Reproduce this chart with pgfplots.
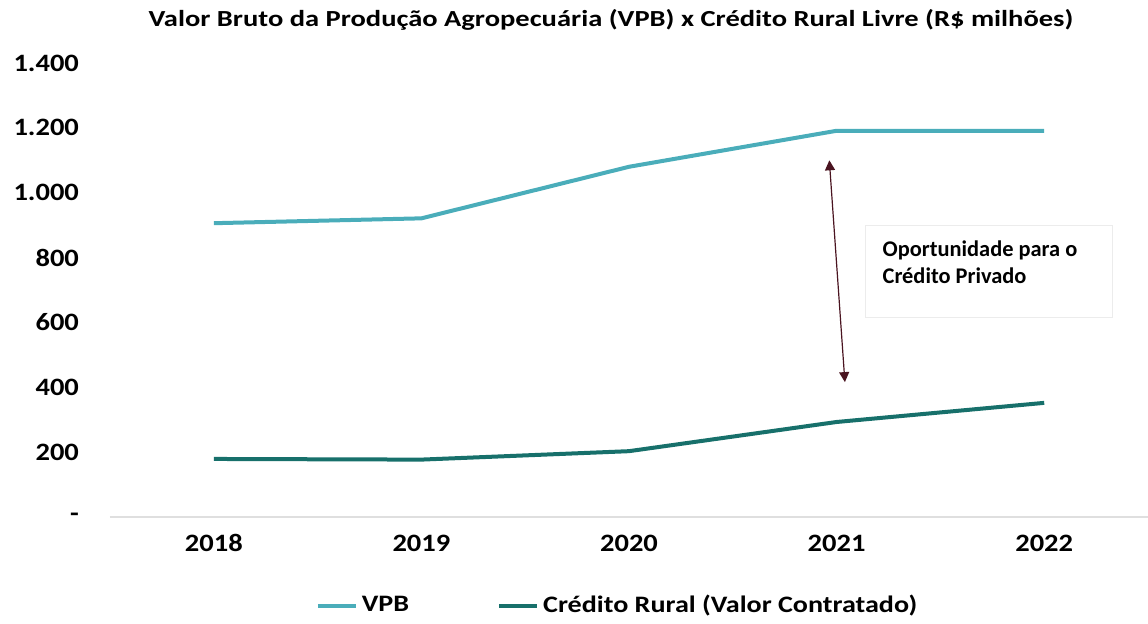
\documentclass[border=0pt]{standalone}
\usepackage{pgfplots}
\pgfplotsset{compat=1.18}
\usepackage{fontspec}
\setmainfont{Carlito}
\newfontfamily\titlefont{Carlito}[FakeStretch=1.24]
\newfontfamily\tickfont{Carlito}[FakeStretch=1.14]
\newfontfamily\legfont{Carlito}[FakeStretch=1.19]
\usetikzlibrary{arrows.meta}
\definecolor{vpb}{HTML}{4AADBA}
\definecolor{cred}{HTML}{17706B}
\definecolor{arr}{HTML}{4A1420}
\begin{document}
\begin{tikzpicture}
\useasboundingbox (-55pt,-53pt) rectangle (519pt,258.5pt);
\begin{axis}[
  at={(0,0)}, anchor=south west,
  scale only axis, width=519pt, height=227pt,
  xmin=2017.5, xmax=2022.5, ymin=0, ymax=1400,
  axis lines*=left,
  x axis line style={draw=gray!25, line width=1pt, -},
  y axis line style={draw=none},
  major tick length=0pt,
  xtick={2018,2019,2020,2021,2022},
  xticklabels={2018,2019,2020,2021,2022},
  ytick={0,200,400,600,800,1000,1200,1400},
  yticklabels={-,200,400,600,800,1.000,1.200,1.400},
  ticklabel style={font=\tickfont\fontsize{12.5}{14}\selectfont\bfseries},
  yticklabel style={anchor=east, xshift=-12pt},
  xticklabel style={anchor=center, yshift=-13pt},
  legend columns=2,
  legend style={at={(0.49,-0.195)}, anchor=center, draw=none, fill=none,
    font=\legfont\fontsize{11.8}{14}\selectfont\bfseries,
    /tikz/every even column/.append style={column sep=42pt}},
  legend image code/.code={\draw[#1, line width=2pt] (0pt,0pt) -- (19pt,0pt);},
  clip=false,
]
\addplot[vpb, line width=2pt] coordinates {(2018,906) (2019,921) (2020,1080) (2021,1191) (2022,1191)};
\addlegendentry{VPB}
\addplot[cred, line width=2pt] coordinates {(2018,179) (2019,177) (2020,203) (2021,293) (2022,352)};
\addlegendentry{Crédito Rural (Valor Contratado)}
\draw[arr, line width=0.6pt, {Triangle[length=5pt,width=5pt]}-{Triangle[length=5pt,width=5pt]}] (axis cs:2020.965,1100) -- (axis cs:2021.04,416);
\draw[draw=gray!15, fill=white] (axis cs:2021.14,900) rectangle (axis cs:2022.33,614);
\node[anchor=west, inner sep=0pt, align=left, font=\fontsize{11.2}{13.5}\selectfont\bfseries] at (axis cs:2021.22,785) {Oportunidade para o\\Crédito Privado};
\end{axis}
\node[font=\titlefont\fontsize{11.5}{14}\selectfont\bfseries] at (250.5pt,248.5pt) {Valor Bruto da Produção Agropecuária (VPB) x Crédito Rural Livre (R\$ milhões)};
\end{tikzpicture}
\end{document}
